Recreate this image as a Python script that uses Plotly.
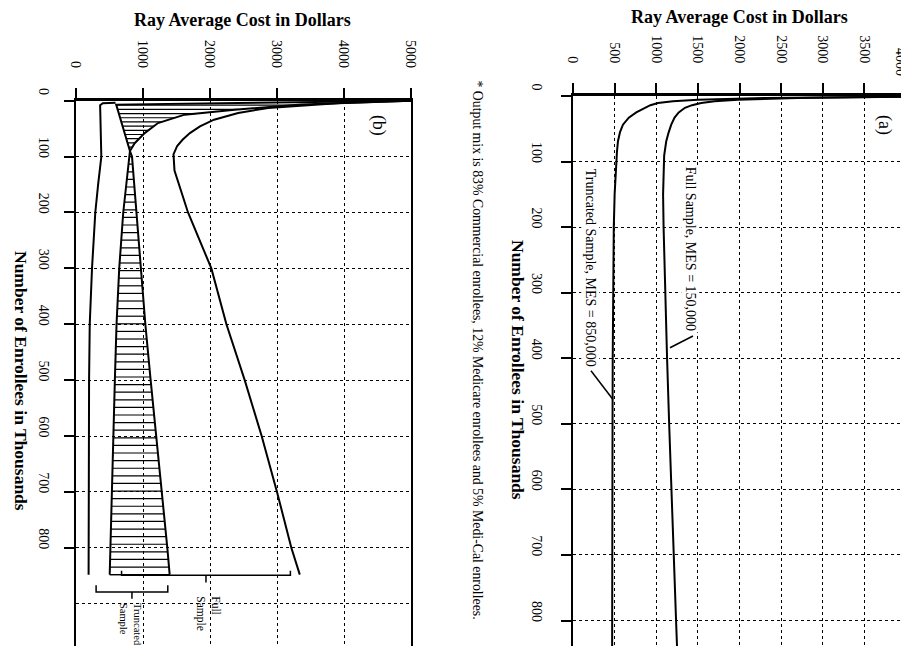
import numpy as np
import plotly.graph_objects as go

# ---------------- data : panel (a) ----------------
a_trunc_enr = [1, 3, 5.6, 8, 10.7, 14, 18, 25, 33, 43.7, 55, 69, 85, 100, 150, 200, 300, 400, 500, 600, 700, 800, 848]
a_trunc_cost = [4000, 2300, 1500, 1200, 1020, 930, 865, 760, 670, 600, 565, 540, 528, 520, 500, 490, 480, 477, 475, 473, 472, 470, 470]
a_full_enr = [1, 3, 5.6, 8, 10.7, 14, 18, 25, 33, 43.7, 55, 69, 91, 150, 200, 300, 400, 500, 600, 700, 800, 848]
a_full_cost = [4000, 2700, 1980, 1700, 1540, 1430, 1345, 1270, 1220, 1180, 1150, 1120, 1095, 1082, 1088, 1105, 1130, 1155, 1180, 1210, 1238, 1252]

# ---------------- data : panel (b) ----------------
b_low_enr = [3.6, 4.6, 8, 50, 100, 150, 200, 300, 400, 500, 600, 700, 800, 848]
b_low_cost = [590, 400, 360, 365, 378, 330, 288, 239, 205, 195, 190, 188, 188, 188]
b_hl_enr = [0.3, 7, 90, 100, 200, 300, 400, 500, 600, 700, 800, 848]
b_hl_cost = [5000, 600, 805, 795, 705, 645, 605, 580, 555, 530, 510, 503]
b_hr_enr = [0.3, 3, 7, 16, 25, 40, 58, 76, 90, 100, 200, 300, 400, 500, 600, 700, 800, 848]
b_hr_cost = [5000, 4200, 3360, 2368, 1622, 1224, 1025, 876, 805, 836, 900, 965, 1035, 1114, 1199, 1284, 1363, 1398]
b_up_enr = [0.2, 4, 13, 22, 34, 46, 58, 70, 81, 96, 125, 200, 300, 400, 500, 600, 700, 800, 848]
b_up_cost = [5000, 3950, 2866, 2420, 2060, 1850, 1700, 1590, 1510, 1455, 1470, 1672, 2020, 2245, 2518, 2771, 3000, 3214, 3340]

full_bracket = [680, 3200]
trunc_bracket = [300, 1370]

a_cost_ticks = [0, 500, 1000, 1500, 2000, 2500, 3000, 3500, 4000]
b_cost_ticks = [0, 1000, 2000, 3000, 4000, 5000]
enr_ticks = [0, 100, 200, 300, 400, 500, 600, 700, 800]

W, H = 909, 646
FONT = "Liberation Serif"


def px(xp):
    return xp / W


def py(yp):
    return 1 - yp / H


fig = go.Figure()
line = dict(color="black", width=2)

# panel (a) curves
fig.add_trace(go.Scatter(x=a_trunc_cost, y=a_trunc_enr, mode="lines", line=line, xaxis="x2", yaxis="y2"))
fig.add_trace(go.Scatter(x=a_full_cost, y=a_full_enr, mode="lines", line=line, xaxis="x2", yaxis="y2"))

# panel (b) hatching between left and right edge
hatch_enr = np.concatenate([np.arange(8, 89, 7.5), np.arange(100, 849, 13.6), [848]])
xl = np.interp(hatch_enr, b_hl_enr, b_hl_cost)
xr = np.interp(hatch_enr, b_hr_enr, b_hr_cost)
hx, hy = [], []
for e, a, b in zip(hatch_enr, xl, xr):
    hx += [a, b, None]
    hy += [e, e, None]
fig.add_trace(go.Scatter(x=hx, y=hy, mode="lines", line=dict(color="black", width=1.2), xaxis="x", yaxis="y"))

fig.add_trace(go.Scatter(x=b_low_cost, y=b_low_enr, mode="lines", line=line, xaxis="x", yaxis="y"))
fig.add_trace(go.Scatter(x=b_hl_cost, y=b_hl_enr, mode="lines", line=line, xaxis="x", yaxis="y"))
fig.add_trace(go.Scatter(x=b_hr_cost, y=b_hr_enr, mode="lines", line=line, xaxis="x", yaxis="y"))
fig.add_trace(go.Scatter(x=b_up_cost, y=b_up_enr, mode="lines", line=line, xaxis="x", yaxis="y"))


# brackets
def bracket(c0, c1, base, up, down):
    mid = (c0 + c1) / 2
    return ([c0, c0, c1, c1, None, mid, mid], [base - up, base, base, base - up, None, base, base + down])


bx1, by1 = bracket(full_bracket[0], full_bracket[1], 849, 8, 13)
bx2, by2 = bracket(trunc_bracket[0], trunc_bracket[1], 879, 12, 12)
fig.add_trace(go.Scatter(x=bx1 + [None] + bx2, y=by1 + [None] + by2, mode="lines",
                         line=dict(color="black", width=1.5), xaxis="x", yaxis="y"))

tickfont = dict(family=FONT, size=14, color="black")
common_x = dict(side="top", tickangle=90, ticks="outside", ticklen=10, tickwidth=2, tickcolor="black",
                showgrid=True, gridcolor="black", griddash="dot", gridwidth=1,
                showline=True, linewidth=2.5, linecolor="black", zeroline=False,
                tickfont=tickfont, ticklabelstandoff=15, ticklabeloverflow="allow",
                automargin=False, fixedrange=True)
common_y = dict(tickangle=90, ticks="outside", ticklen=10, tickwidth=2, tickcolor="black",
                showgrid=True, gridcolor="black", griddash="dot", gridwidth=1,
                showline=True, linewidth=2, linecolor="black", zeroline=False,
                tickmode="array", tickvals=enr_ticks, ticktext=[str(v) for v in enr_ticks],
                tickfont=tickfont, ticklabelshift=7, ticklabeloverflow="allow",
                automargin=False, fixedrange=True)

# last label of panel (a) cost axis is drawn as an annotation so it stays inside the page
a_cost_text = [str(v) for v in a_cost_ticks[:-1]] + [""]

fig.update_layout(
    width=W, height=H, margin=dict(l=0, r=0, t=0, b=0),
    paper_bgcolor="white", plot_bgcolor="white", showlegend=False,
    xaxis=dict(common_x, domain=[px(68), px(403)], range=[0, 5000], tickmode="array",
               tickvals=b_cost_ticks, ticktext=[str(v) for v in b_cost_ticks], anchor="y"),
    yaxis=dict(common_y, domain=[0, py(92.7)], range=[990, 0], anchor="x", mirror=True,
               ticklabelstandoff=8,
               minor=dict(tickmode="array", tickvals=[900], showgrid=True, gridcolor="black",
                          griddash="dot", gridwidth=1, ticks="")),
    xaxis2=dict(common_x, domain=[px(565), px(898)], range=[0, 4000], tickmode="array",
                tickvals=a_cost_ticks, ticktext=a_cost_text, anchor="y2", mirror=True),
    yaxis2=dict(common_y, domain=[py(644), py(88)], range=[848, 0], anchor="x2", mirror=True,
                ticklabelstandoff=12),
)

ann = []
title_font = dict(family=FONT, size=18, color="black")
axis_title_font = dict(family=FONT, size=17.5, color="black")
ann.append(dict(text=str(a_cost_ticks[-1]), x=a_cost_ticks[-1], y=py(54), xref="x2", yref="paper",
                showarrow=False, textangle=90, font=tickfont, xanchor="center", yanchor="middle", xshift=-6))
ann.append(dict(text="<b>Ray Average Cost in Dollars</b>", x=px(731), y=py(8.5), xref="paper", yref="paper",
                showarrow=False, font=title_font, xanchor="center", yanchor="middle"))
ann.append(dict(text="<b>Ray Average Cost in Dollars</b>", x=px(235), y=py(12), xref="paper", yref="paper",
                showarrow=False, font=title_font, xanchor="center", yanchor="middle"))
ann.append(dict(text="<b>Number of Enrollees in Thousands</b>", x=px(510), y=py(362), xref="paper", yref="paper",
                showarrow=False, font=axis_title_font, textangle=90, xanchor="center", yanchor="middle"))
ann.append(dict(text="<b>Number of Enrollees in Thousands</b>", x=px(13), y=py(373), xref="paper", yref="paper",
                showarrow=False, font=axis_title_font, textangle=90, xanchor="center", yanchor="middle"))
ann.append(dict(text="* Output mix is 83% Commercial enrollees, 12% Medicare enrollees and 5% Medi-Cal enrollees.",
                x=px(469), y=py(70), xref="paper", yref="paper", showarrow=False, textangle=90,
                font=dict(family=FONT, size=13.8, color="black"), xanchor="center", yanchor="top"))
ann.append(dict(text="(a)", x=3735, y=44, xref="x2", yref="y2", showarrow=False, textangle=90,
                font=dict(family=FONT, size=18, color="black")))
ann.append(dict(text="(b)", x=4507, y=45, xref="x", yref="y", showarrow=False, textangle=90,
                font=dict(family=FONT, size=18, color="black")))
ann.append(dict(text="Full Sample, MES = 150,000", x=1405, y=233, xref="x2", yref="y2", showarrow=False,
                textangle=90, font=dict(family=FONT, size=14, color="black"), bgcolor="white"))
ann.append(dict(text="Truncated Sample, MES = 850,000", x=204, y=262, xref="x2", yref="y2", showarrow=False,
                textangle=90, font=dict(family=FONT, size=14, color="black"), bgcolor="white"))
ann.append(dict(text="Full<br>Sample", x=1970, y=884, xref="x", yref="y", showarrow=False, textangle=90,
                align="left", yanchor="top", font=dict(family=FONT, size=11.5, color="black")))
ann.append(dict(text="Truncated<br>Sample", x=813, y=895, xref="x", yref="y", showarrow=False, textangle=90,
                align="left", yanchor="top", font=dict(family=FONT, size=10.5, color="black")))
fig.update_layout(annotations=ann)

shapes = [
    dict(type="line", xref="x2", yref="y2", x0=1441, y0=366, x1=1165, y1=384, line=dict(color="black", width=1.5)),
    dict(type="line", xref="x2", yref="y2", x0=216, y0=419, x1=480, y1=463, line=dict(color="black", width=1.5)),
]
fig.update_layout(shapes=shapes)

fig.write_html("out.html")
